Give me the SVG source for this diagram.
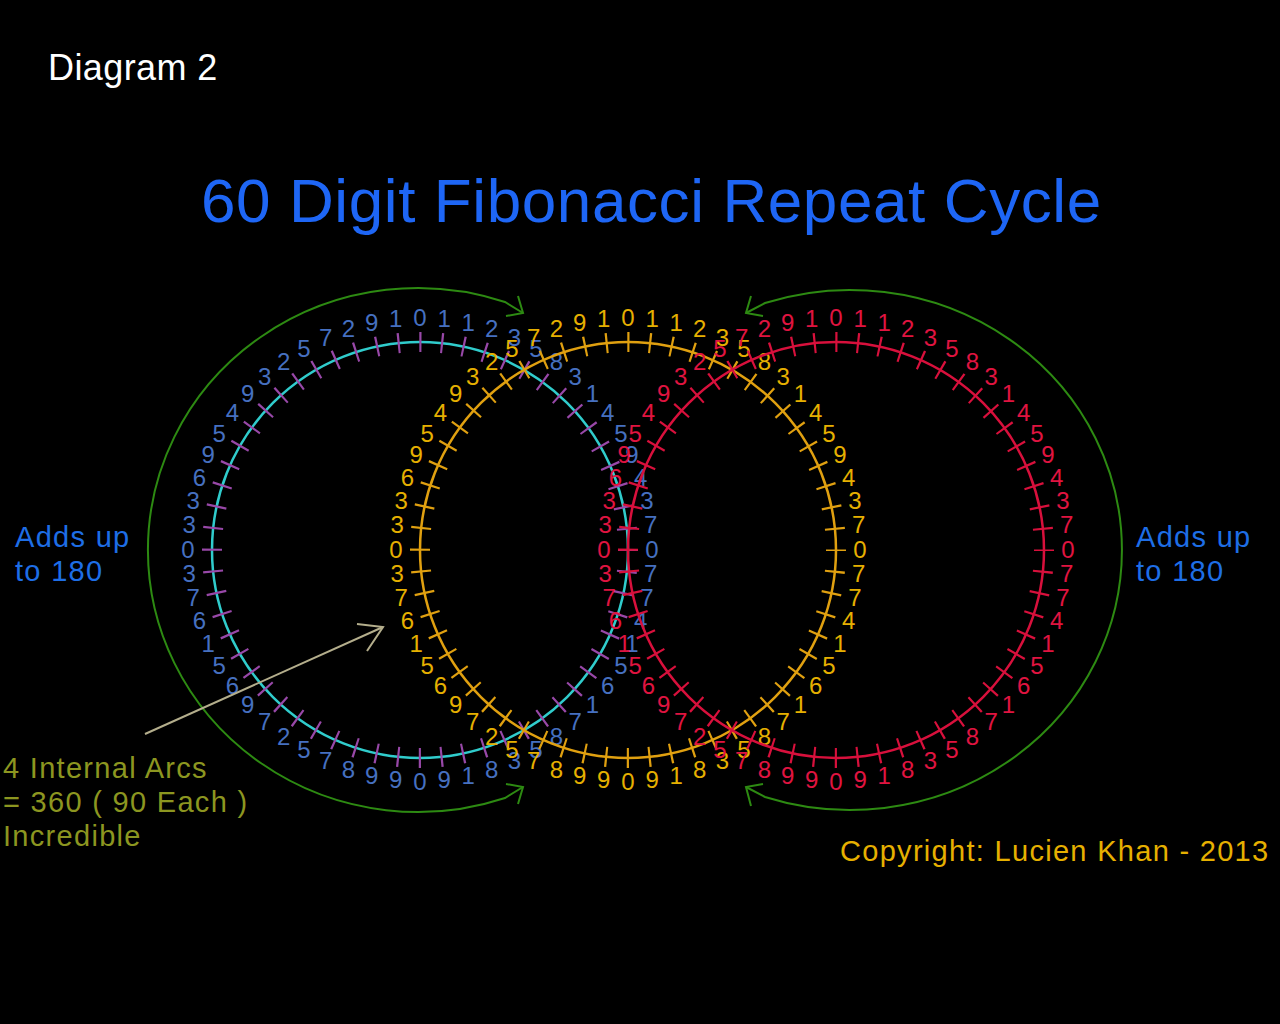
<svg xmlns="http://www.w3.org/2000/svg" width="1280" height="1024" viewBox="0 0 1280 1024">
<style>
text{font-family:"Liberation Sans",Arial,Helvetica,sans-serif}
.d{font-size:24px;text-anchor:middle}
.lab{font-size:29px;letter-spacing:1.3px}
.ring{fill:none;stroke-width:2.5}
.tick{fill:none;stroke-width:20;stroke-dasharray:2.2 19.58171;stroke-dashoffset:1.1}
.green{fill:none;stroke:#2d8a12;stroke-width:2}
.ptr{fill:none;stroke:#b4ae8c;stroke-width:2}
</style>
<rect width="1280" height="1024" fill="#000"/>

<text x="48" y="80" font-size="36" letter-spacing="0.4" fill="#ffffff">Diagram 2</text>
<text x="201" y="222" font-size="62" letter-spacing="0.6" fill="#1e66f5">60 Digit Fibonacci Repeat Cycle</text>
<text class="lab" fill="#1e6ee6"><tspan x="15" y="547">Adds up</tspan><tspan x="15" y="581">to 180</tspan></text>
<text class="lab" fill="#1e6ee6"><tspan x="1136" y="547">Adds up</tspan><tspan x="1136" y="581">to 180</tspan></text>
<text class="lab" fill="#8c9620"><tspan x="3" y="778">4 Internal Arcs</tspan><tspan x="3" y="812">= 360 ( 90 Each )</tspan><tspan x="3" y="846">Incredible</tspan></text>
<text x="840" y="861" class="lab" fill="#e6b000">Copyright: Lucien Khan - 2013</text>

<g id="green-arcs">
<path class="green" d="M523 313 L505 302 A270 262 0 1 0 505 798 L523 787"/>
<path class="green" d="M518 296 L523 313 L506 316"/>
<path class="green" d="M518 804 L523 787 L506 784"/>
<path class="green" d="M746 313 L765 303 A272 260 0 1 1 765 797 L746 787"/>
<path class="green" d="M751 296 L746 313 L763 316"/>
<path class="green" d="M751 806 L746 787 L763 784"/>
</g>

<g id="circle-left" transform="translate(420 550)">
<circle class="ring" r="208" stroke="#30cccc"/>
<circle class="tick" r="208" stroke="#9848a8"/>
<g class="d" fill="#4670c0">
<text transform="rotate(0) translate(0 -232) rotate(0)" dy="7.5">0</text>
<text transform="rotate(6) translate(0 -232) rotate(-6)" dy="7.5">1</text>
<text transform="rotate(12) translate(0 -232) rotate(-12)" dy="7.5">1</text>
<text transform="rotate(18) translate(0 -232) rotate(-18)" dy="7.5">2</text>
<text transform="rotate(24) translate(0 -232) rotate(-24)" dy="7.5">3</text>
<text transform="rotate(30) translate(0 -232) rotate(-30)" dy="7.5">5</text>
<text transform="rotate(36) translate(0 -232) rotate(-36)" dy="7.5">8</text>
<text transform="rotate(42) translate(0 -232) rotate(-42)" dy="7.5">3</text>
<text transform="rotate(48) translate(0 -232) rotate(-48)" dy="7.5">1</text>
<text transform="rotate(54) translate(0 -232) rotate(-54)" dy="7.5">4</text>
<text transform="rotate(60) translate(0 -232) rotate(-60)" dy="7.5">5</text>
<text transform="rotate(66) translate(0 -232) rotate(-66)" dy="7.5">9</text>
<text transform="rotate(72) translate(0 -232) rotate(-72)" dy="7.5">4</text>
<text transform="rotate(78) translate(0 -232) rotate(-78)" dy="7.5">3</text>
<text transform="rotate(84) translate(0 -232) rotate(-84)" dy="7.5">7</text>
<text transform="rotate(90) translate(0 -232) rotate(-90)" dy="7.5">0</text>
<text transform="rotate(96) translate(0 -232) rotate(-96)" dy="7.5">7</text>
<text transform="rotate(102) translate(0 -232) rotate(-102)" dy="7.5">7</text>
<text transform="rotate(108) translate(0 -232) rotate(-108)" dy="7.5">4</text>
<text transform="rotate(114) translate(0 -232) rotate(-114)" dy="7.5">1</text>
<text transform="rotate(120) translate(0 -232) rotate(-120)" dy="7.5">5</text>
<text transform="rotate(126) translate(0 -232) rotate(-126)" dy="7.5">6</text>
<text transform="rotate(132) translate(0 -232) rotate(-132)" dy="7.5">1</text>
<text transform="rotate(138) translate(0 -232) rotate(-138)" dy="7.5">7</text>
<text transform="rotate(144) translate(0 -232) rotate(-144)" dy="7.5">8</text>
<text transform="rotate(150) translate(0 -232) rotate(-150)" dy="7.5">5</text>
<text transform="rotate(156) translate(0 -232) rotate(-156)" dy="7.5">3</text>
<text transform="rotate(162) translate(0 -232) rotate(-162)" dy="7.5">8</text>
<text transform="rotate(168) translate(0 -232) rotate(-168)" dy="7.5">1</text>
<text transform="rotate(174) translate(0 -232) rotate(-174)" dy="7.5">9</text>
<text transform="rotate(180) translate(0 -232) rotate(-180)" dy="7.5">0</text>
<text transform="rotate(186) translate(0 -232) rotate(-186)" dy="7.5">9</text>
<text transform="rotate(192) translate(0 -232) rotate(-192)" dy="7.5">9</text>
<text transform="rotate(198) translate(0 -232) rotate(-198)" dy="7.5">8</text>
<text transform="rotate(204) translate(0 -232) rotate(-204)" dy="7.5">7</text>
<text transform="rotate(210) translate(0 -232) rotate(-210)" dy="7.5">5</text>
<text transform="rotate(216) translate(0 -232) rotate(-216)" dy="7.5">2</text>
<text transform="rotate(222) translate(0 -232) rotate(-222)" dy="7.5">7</text>
<text transform="rotate(228) translate(0 -232) rotate(-228)" dy="7.5">9</text>
<text transform="rotate(234) translate(0 -232) rotate(-234)" dy="7.5">6</text>
<text transform="rotate(240) translate(0 -232) rotate(-240)" dy="7.5">5</text>
<text transform="rotate(246) translate(0 -232) rotate(-246)" dy="7.5">1</text>
<text transform="rotate(252) translate(0 -232) rotate(-252)" dy="7.5">6</text>
<text transform="rotate(258) translate(0 -232) rotate(-258)" dy="7.5">7</text>
<text transform="rotate(264) translate(0 -232) rotate(-264)" dy="7.5">3</text>
<text transform="rotate(270) translate(0 -232) rotate(-270)" dy="7.5">0</text>
<text transform="rotate(276) translate(0 -232) rotate(-276)" dy="7.5">3</text>
<text transform="rotate(282) translate(0 -232) rotate(-282)" dy="7.5">3</text>
<text transform="rotate(288) translate(0 -232) rotate(-288)" dy="7.5">6</text>
<text transform="rotate(294) translate(0 -232) rotate(-294)" dy="7.5">9</text>
<text transform="rotate(300) translate(0 -232) rotate(-300)" dy="7.5">5</text>
<text transform="rotate(306) translate(0 -232) rotate(-306)" dy="7.5">4</text>
<text transform="rotate(312) translate(0 -232) rotate(-312)" dy="7.5">9</text>
<text transform="rotate(318) translate(0 -232) rotate(-318)" dy="7.5">3</text>
<text transform="rotate(324) translate(0 -232) rotate(-324)" dy="7.5">2</text>
<text transform="rotate(330) translate(0 -232) rotate(-330)" dy="7.5">5</text>
<text transform="rotate(336) translate(0 -232) rotate(-336)" dy="7.5">7</text>
<text transform="rotate(342) translate(0 -232) rotate(-342)" dy="7.5">2</text>
<text transform="rotate(348) translate(0 -232) rotate(-348)" dy="7.5">9</text>
<text transform="rotate(354) translate(0 -232) rotate(-354)" dy="7.5">1</text>
</g>
</g>

<g id="circle-middle" transform="translate(628 550)">
<circle class="ring" r="208" stroke="#e0a010"/>
<circle class="tick" r="208" stroke="#e0a010"/>
<g class="d" fill="#e6b000">
<text transform="rotate(0) translate(0 -232) rotate(0)" dy="7.5">0</text>
<text transform="rotate(6) translate(0 -232) rotate(-6)" dy="7.5">1</text>
<text transform="rotate(12) translate(0 -232) rotate(-12)" dy="7.5">1</text>
<text transform="rotate(18) translate(0 -232) rotate(-18)" dy="7.5">2</text>
<text transform="rotate(24) translate(0 -232) rotate(-24)" dy="7.5">3</text>
<text transform="rotate(30) translate(0 -232) rotate(-30)" dy="7.5">5</text>
<text transform="rotate(36) translate(0 -232) rotate(-36)" dy="7.5">8</text>
<text transform="rotate(42) translate(0 -232) rotate(-42)" dy="7.5">3</text>
<text transform="rotate(48) translate(0 -232) rotate(-48)" dy="7.5">1</text>
<text transform="rotate(54) translate(0 -232) rotate(-54)" dy="7.5">4</text>
<text transform="rotate(60) translate(0 -232) rotate(-60)" dy="7.5">5</text>
<text transform="rotate(66) translate(0 -232) rotate(-66)" dy="7.5">9</text>
<text transform="rotate(72) translate(0 -232) rotate(-72)" dy="7.5">4</text>
<text transform="rotate(78) translate(0 -232) rotate(-78)" dy="7.5">3</text>
<text transform="rotate(84) translate(0 -232) rotate(-84)" dy="7.5">7</text>
<text transform="rotate(90) translate(0 -232) rotate(-90)" dy="7.5">0</text>
<text transform="rotate(96) translate(0 -232) rotate(-96)" dy="7.5">7</text>
<text transform="rotate(102) translate(0 -232) rotate(-102)" dy="7.5">7</text>
<text transform="rotate(108) translate(0 -232) rotate(-108)" dy="7.5">4</text>
<text transform="rotate(114) translate(0 -232) rotate(-114)" dy="7.5">1</text>
<text transform="rotate(120) translate(0 -232) rotate(-120)" dy="7.5">5</text>
<text transform="rotate(126) translate(0 -232) rotate(-126)" dy="7.5">6</text>
<text transform="rotate(132) translate(0 -232) rotate(-132)" dy="7.5">1</text>
<text transform="rotate(138) translate(0 -232) rotate(-138)" dy="7.5">7</text>
<text transform="rotate(144) translate(0 -232) rotate(-144)" dy="7.5">8</text>
<text transform="rotate(150) translate(0 -232) rotate(-150)" dy="7.5">5</text>
<text transform="rotate(156) translate(0 -232) rotate(-156)" dy="7.5">3</text>
<text transform="rotate(162) translate(0 -232) rotate(-162)" dy="7.5">8</text>
<text transform="rotate(168) translate(0 -232) rotate(-168)" dy="7.5">1</text>
<text transform="rotate(174) translate(0 -232) rotate(-174)" dy="7.5">9</text>
<text transform="rotate(180) translate(0 -232) rotate(-180)" dy="7.5">0</text>
<text transform="rotate(186) translate(0 -232) rotate(-186)" dy="7.5">9</text>
<text transform="rotate(192) translate(0 -232) rotate(-192)" dy="7.5">9</text>
<text transform="rotate(198) translate(0 -232) rotate(-198)" dy="7.5">8</text>
<text transform="rotate(204) translate(0 -232) rotate(-204)" dy="7.5">7</text>
<text transform="rotate(210) translate(0 -232) rotate(-210)" dy="7.5">5</text>
<text transform="rotate(216) translate(0 -232) rotate(-216)" dy="7.5">2</text>
<text transform="rotate(222) translate(0 -232) rotate(-222)" dy="7.5">7</text>
<text transform="rotate(228) translate(0 -232) rotate(-228)" dy="7.5">9</text>
<text transform="rotate(234) translate(0 -232) rotate(-234)" dy="7.5">6</text>
<text transform="rotate(240) translate(0 -232) rotate(-240)" dy="7.5">5</text>
<text transform="rotate(246) translate(0 -232) rotate(-246)" dy="7.5">1</text>
<text transform="rotate(252) translate(0 -232) rotate(-252)" dy="7.5">6</text>
<text transform="rotate(258) translate(0 -232) rotate(-258)" dy="7.5">7</text>
<text transform="rotate(264) translate(0 -232) rotate(-264)" dy="7.5">3</text>
<text transform="rotate(270) translate(0 -232) rotate(-270)" dy="7.5">0</text>
<text transform="rotate(276) translate(0 -232) rotate(-276)" dy="7.5">3</text>
<text transform="rotate(282) translate(0 -232) rotate(-282)" dy="7.5">3</text>
<text transform="rotate(288) translate(0 -232) rotate(-288)" dy="7.5">6</text>
<text transform="rotate(294) translate(0 -232) rotate(-294)" dy="7.5">9</text>
<text transform="rotate(300) translate(0 -232) rotate(-300)" dy="7.5">5</text>
<text transform="rotate(306) translate(0 -232) rotate(-306)" dy="7.5">4</text>
<text transform="rotate(312) translate(0 -232) rotate(-312)" dy="7.5">9</text>
<text transform="rotate(318) translate(0 -232) rotate(-318)" dy="7.5">3</text>
<text transform="rotate(324) translate(0 -232) rotate(-324)" dy="7.5">2</text>
<text transform="rotate(330) translate(0 -232) rotate(-330)" dy="7.5">5</text>
<text transform="rotate(336) translate(0 -232) rotate(-336)" dy="7.5">7</text>
<text transform="rotate(342) translate(0 -232) rotate(-342)" dy="7.5">2</text>
<text transform="rotate(348) translate(0 -232) rotate(-348)" dy="7.5">9</text>
<text transform="rotate(354) translate(0 -232) rotate(-354)" dy="7.5">1</text>
</g>
</g>

<g id="circle-right" transform="translate(836 550)">
<circle class="ring" r="208" stroke="#d8103c"/>
<circle class="tick" r="208" stroke="#d8103c"/>
<g class="d" fill="#e01440">
<text transform="rotate(0) translate(0 -232) rotate(0)" dy="7.5">0</text>
<text transform="rotate(6) translate(0 -232) rotate(-6)" dy="7.5">1</text>
<text transform="rotate(12) translate(0 -232) rotate(-12)" dy="7.5">1</text>
<text transform="rotate(18) translate(0 -232) rotate(-18)" dy="7.5">2</text>
<text transform="rotate(24) translate(0 -232) rotate(-24)" dy="7.5">3</text>
<text transform="rotate(30) translate(0 -232) rotate(-30)" dy="7.5">5</text>
<text transform="rotate(36) translate(0 -232) rotate(-36)" dy="7.5">8</text>
<text transform="rotate(42) translate(0 -232) rotate(-42)" dy="7.5">3</text>
<text transform="rotate(48) translate(0 -232) rotate(-48)" dy="7.5">1</text>
<text transform="rotate(54) translate(0 -232) rotate(-54)" dy="7.5">4</text>
<text transform="rotate(60) translate(0 -232) rotate(-60)" dy="7.5">5</text>
<text transform="rotate(66) translate(0 -232) rotate(-66)" dy="7.5">9</text>
<text transform="rotate(72) translate(0 -232) rotate(-72)" dy="7.5">4</text>
<text transform="rotate(78) translate(0 -232) rotate(-78)" dy="7.5">3</text>
<text transform="rotate(84) translate(0 -232) rotate(-84)" dy="7.5">7</text>
<text transform="rotate(90) translate(0 -232) rotate(-90)" dy="7.5">0</text>
<text transform="rotate(96) translate(0 -232) rotate(-96)" dy="7.5">7</text>
<text transform="rotate(102) translate(0 -232) rotate(-102)" dy="7.5">7</text>
<text transform="rotate(108) translate(0 -232) rotate(-108)" dy="7.5">4</text>
<text transform="rotate(114) translate(0 -232) rotate(-114)" dy="7.5">1</text>
<text transform="rotate(120) translate(0 -232) rotate(-120)" dy="7.5">5</text>
<text transform="rotate(126) translate(0 -232) rotate(-126)" dy="7.5">6</text>
<text transform="rotate(132) translate(0 -232) rotate(-132)" dy="7.5">1</text>
<text transform="rotate(138) translate(0 -232) rotate(-138)" dy="7.5">7</text>
<text transform="rotate(144) translate(0 -232) rotate(-144)" dy="7.5">8</text>
<text transform="rotate(150) translate(0 -232) rotate(-150)" dy="7.5">5</text>
<text transform="rotate(156) translate(0 -232) rotate(-156)" dy="7.5">3</text>
<text transform="rotate(162) translate(0 -232) rotate(-162)" dy="7.5">8</text>
<text transform="rotate(168) translate(0 -232) rotate(-168)" dy="7.5">1</text>
<text transform="rotate(174) translate(0 -232) rotate(-174)" dy="7.5">9</text>
<text transform="rotate(180) translate(0 -232) rotate(-180)" dy="7.5">0</text>
<text transform="rotate(186) translate(0 -232) rotate(-186)" dy="7.5">9</text>
<text transform="rotate(192) translate(0 -232) rotate(-192)" dy="7.5">9</text>
<text transform="rotate(198) translate(0 -232) rotate(-198)" dy="7.5">8</text>
<text transform="rotate(204) translate(0 -232) rotate(-204)" dy="7.5">7</text>
<text transform="rotate(210) translate(0 -232) rotate(-210)" dy="7.5">5</text>
<text transform="rotate(216) translate(0 -232) rotate(-216)" dy="7.5">2</text>
<text transform="rotate(222) translate(0 -232) rotate(-222)" dy="7.5">7</text>
<text transform="rotate(228) translate(0 -232) rotate(-228)" dy="7.5">9</text>
<text transform="rotate(234) translate(0 -232) rotate(-234)" dy="7.5">6</text>
<text transform="rotate(240) translate(0 -232) rotate(-240)" dy="7.5">5</text>
<text transform="rotate(246) translate(0 -232) rotate(-246)" dy="7.5">1</text>
<text transform="rotate(252) translate(0 -232) rotate(-252)" dy="7.5">6</text>
<text transform="rotate(258) translate(0 -232) rotate(-258)" dy="7.5">7</text>
<text transform="rotate(264) translate(0 -232) rotate(-264)" dy="7.5">3</text>
<text transform="rotate(270) translate(0 -232) rotate(-270)" dy="7.5">0</text>
<text transform="rotate(276) translate(0 -232) rotate(-276)" dy="7.5">3</text>
<text transform="rotate(282) translate(0 -232) rotate(-282)" dy="7.5">3</text>
<text transform="rotate(288) translate(0 -232) rotate(-288)" dy="7.5">6</text>
<text transform="rotate(294) translate(0 -232) rotate(-294)" dy="7.5">9</text>
<text transform="rotate(300) translate(0 -232) rotate(-300)" dy="7.5">5</text>
<text transform="rotate(306) translate(0 -232) rotate(-306)" dy="7.5">4</text>
<text transform="rotate(312) translate(0 -232) rotate(-312)" dy="7.5">9</text>
<text transform="rotate(318) translate(0 -232) rotate(-318)" dy="7.5">3</text>
<text transform="rotate(324) translate(0 -232) rotate(-324)" dy="7.5">2</text>
<text transform="rotate(330) translate(0 -232) rotate(-330)" dy="7.5">5</text>
<text transform="rotate(336) translate(0 -232) rotate(-336)" dy="7.5">7</text>
<text transform="rotate(342) translate(0 -232) rotate(-342)" dy="7.5">2</text>
<text transform="rotate(348) translate(0 -232) rotate(-348)" dy="7.5">9</text>
<text transform="rotate(354) translate(0 -232) rotate(-354)" dy="7.5">1</text>
</g>
</g>

<g id="connectors">
<path class="ptr" d="M145 734 L383 627"/>
<path class="ptr" d="M357 624 L383 627 L367 651"/>
</g>
</svg>
